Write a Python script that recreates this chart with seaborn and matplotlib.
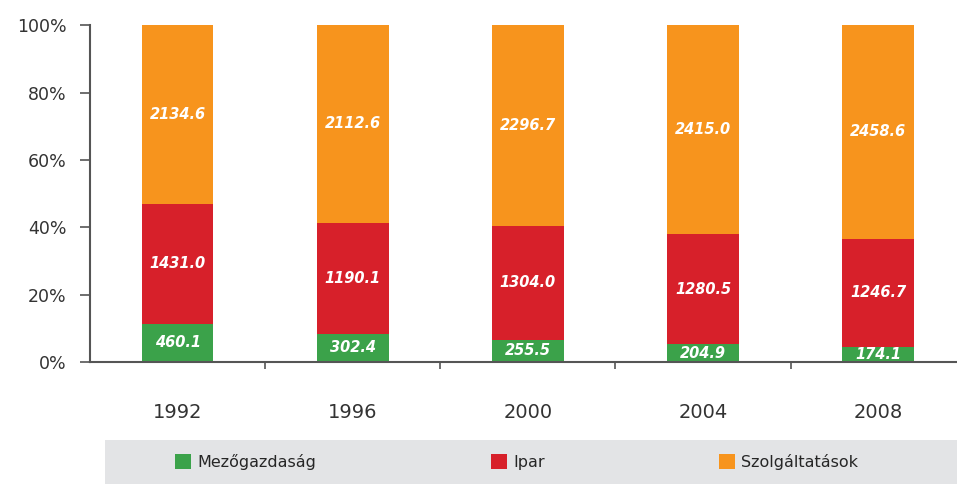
import matplotlib.pyplot as plt
import seaborn as sns
import pandas as pd
from matplotlib.patches import Rectangle

years = ["1992", "1996", "2000", "2004", "2008"]
mezogazdasag = [460.1, 302.4, 255.5, 204.9, 174.1]
ipar = [1431.0, 1190.1, 1304.0, 1280.5, 1246.7]
szolgaltatasok = [2134.6, 2112.6, 2296.7, 2415.0, 2458.6]

green = "#3ba24a"
red = "#d7202a"
orange = "#f7941d"

df = pd.DataFrame({"year": years, "agr": mezogazdasag, "ind": ipar, "srv": szolgaltatasok})
total = df["agr"] + df["ind"] + df["srv"]
df["p_agr"] = df["agr"] / total * 100
df["p_ind"] = df["ind"] / total * 100
df["p_srv"] = df["srv"] / total * 100
df["c_ind"] = df["p_agr"] + df["p_ind"]
df["c_srv"] = df["c_ind"] + df["p_srv"]

sns.set_style("white")
fig = plt.figure(figsize=(9.57, 4.84), dpi=100)
ax = fig.add_axes([0.094, 0.252, 0.906, 0.696])

# stacked bars drawn as overlaid cumulative layers
sns.barplot(data=df, x="year", y="c_srv", color=orange, saturation=1, width=0.41,
            label="Szolgáltatások", ax=ax, linewidth=0)
sns.barplot(data=df, x="year", y="c_ind", color=red, saturation=1, width=0.41,
            label="Ipar", ax=ax, linewidth=0)
sns.barplot(data=df, x="year", y="p_agr", color=green, saturation=1, width=0.41,
            label="Mezőgazdaság", ax=ax, linewidth=0)

lab_kw = dict(ha="center", va="center", color="white", fontsize=10.5,
              fontweight="bold", fontstyle="italic")
for i in range(len(years)):
    ax.text(i, df["p_agr"][i] / 2, f"{mezogazdasag[i]:.1f}", **lab_kw)
    ax.text(i, df["p_agr"][i] + df["p_ind"][i] / 2, f"{ipar[i]:.1f}", **lab_kw)
    ax.text(i, df["c_ind"][i] + df["p_srv"][i] / 2, f"{szolgaltatasok[i]:.1f}", **lab_kw)

ax.set_ylim(0, 100)
ax.set_xlim(-0.5, 4.45)
ax.set_yticks([0, 20, 40, 60, 80, 100])
ax.set_yticklabels([f"{v}%" for v in [0, 20, 40, 60, 80, 100]])
ax.set_xticks([0.5, 1.5, 2.5, 3.5], minor=True)
ax.tick_params(axis="y", which="major", left=True, length=7, width=1.2, color="#555555",
               labelsize=12.5, labelcolor="#333333", pad=10)
ax.tick_params(axis="x", which="major", bottom=False, labelsize=14,
               labelcolor="#333333", pad=26)
ax.tick_params(axis="x", which="minor", bottom=True, length=5, width=1.2, color="#555555")
ax.set_xlabel("")
ax.set_ylabel("")
for s in ["top", "right"]:
    ax.spines[s].set_visible(False)
for s in ["left", "bottom"]:
    ax.spines[s].set_color("#555555")
    ax.spines[s].set_linewidth(1.5)
ax.legend().remove()

# grey legend band
fig.patches.append(Rectangle((105 / 957, 0), 1 - 105 / 957, 44 / 484,
                             transform=fig.transFigure, facecolor="#e3e4e6",
                             edgecolor="none", zorder=0))
handles, labels = ax.get_legend_handles_labels()
order = [2, 1, 0]
fig.legend([handles[i] for i in order], [labels[i] for i in order],
           loc="center", bbox_to_anchor=(0.54, 22 / 484), ncol=3, frameon=False,
           fontsize=11.5, handlelength=1.0, handleheight=1.0, handletextpad=0.4,
           columnspacing=10.9)

fig.savefig("out.png", dpi=100)
